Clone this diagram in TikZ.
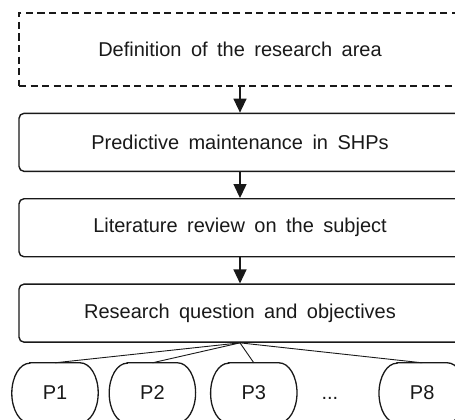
\documentclass[tikz,border=0pt]{standalone}
\usepackage{fontspec}
\setmainfont{Liberation Sans}[WordSpace=1.7]
\usetikzlibrary{positioning,arrows.meta}

\begin{document}
\begin{tikzpicture}[x=1pt,y=1pt,font=\fontsize{20}{24}\selectfont,text=black!90,
	areabox/.style={draw=black!90,line width=1.3pt,dash pattern=on 7pt off 4.5pt,minimum width=442pt,minimum height=73pt,inner sep=0pt},
	stage/.style={draw=black!90,line width=1.4pt,rounded corners=5pt,minimum width=442pt,minimum height=58pt,inner sep=0pt},
	paper/.style={minimum width=86pt,minimum height=60pt,inner sep=0pt},
	paperline/.style={draw=black!90,line width=1.3pt},
	flow/.style={draw=black!90,line width=1.3pt,-{Triangle[length=14pt,width=13pt]}},
	link/.style={draw=black!90,line width=0.9pt}]
		\useasboundingbox (0,0) rectangle (455,-420);

		\node[areabox]	at (240,-49.5)					(area)	{Definition of the research area};
		\node[stage,node distance=26pt,below=of area]	(pm)	{Predictive maintenance in SHPs};
		\node[stage,node distance=26pt,below=of pm]		(lit)	{Literature review on the subject};
		\node[stage,node distance=26pt,below=of lit]	(rq)	{Research question and objectives};

		\node[paper]	at (55,-393)					(p1)	{P1};
		\node[paper,node distance=11pt,right=of p1]		(p2)	{P2};
		\node[paper,node distance=15pt,right=of p2]		(p3)	{P3};
		\node[base right=21pt of p3]					(dots)	{...};
		\node[paper,node distance=82pt,right=of p3]		(p8)	{P8};

		% outline of the papers
		\foreach \p in {p1,p2,p3,p8}
			\draw[paperline] ([xshift=18pt]\p.north west) -- ([xshift=-18pt]\p.north east)
				arc[start angle=90,end angle=-90,x radius=18pt,y radius=30pt]
				-- ([xshift=18pt]\p.south west)
				arc[start angle=270,end angle=90,x radius=18pt,y radius=30pt] -- cycle;

		\draw[flow] (area) -- (pm);
		\draw[flow] (pm) -- (lit);
		\draw[flow] (lit) -- (rq);

		\draw[link] (rq.south) -- (p1.north);
		\draw[link] (rq.south) -- (p2.north);
		\draw[link] (rq.south) -- (p3.north);
		\draw[link] (rq.south) -- (p8.north);
	\end{tikzpicture}
\end{document}
